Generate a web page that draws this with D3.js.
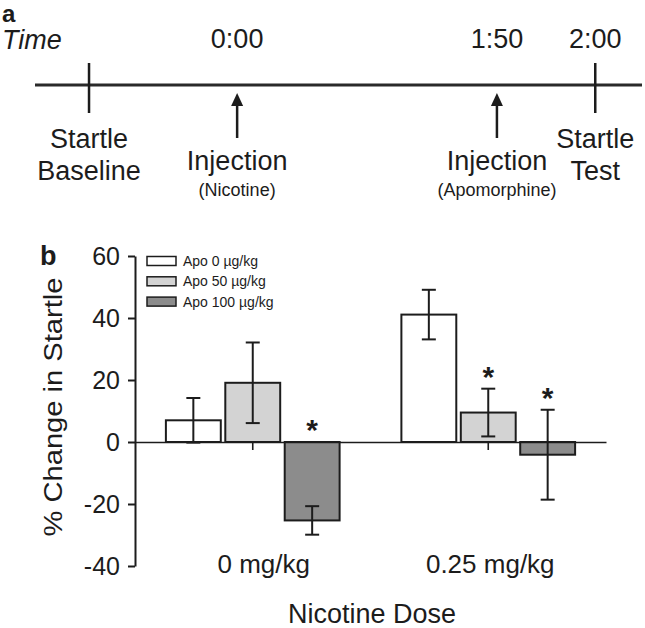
<!DOCTYPE html>
<html>
<head>
<meta charset="utf-8">
<script src="https://cdn.jsdelivr.net/npm/d3@7"></script>
<style>
  html, body { margin: 0; padding: 0; background: #fff; }
  svg { display: block; }
</style>
</head>
<body>
<script>
// ---------------- DATA ----------------
// Panel a: timeline events
const eventKeys   = ["baseline", "nicotine", "apomorphine", "test"];
const eventTimes  = ["", "0:00", "1:50", "2:00"];
const eventTitles = [["Startle", "Baseline"], ["Injection"], ["Injection"], ["Startle", "Test"]];
const eventNotes  = ["", "(Nicotine)", "(Apomorphine)", ""];
const eventMarks  = ["tick", "arrow", "arrow", "tick"];

// Panel b: % change in startle
const doses       = ["0 mg/kg", "0.25 mg/kg"];
const seriesNames = ["Apo 0 \u00b5g/kg", "Apo 50 \u00b5g/kg", "Apo 100 \u00b5g/kg"];
const apo0Means   = [7.0, 41.1];
const apo0Sem     = [7.2, 8.0];
const apo50Means  = [19.1, 9.5];
const apo50Sem    = [13.0, 7.7];
const apo100Means = [-25.3, -4.1];
const apo100Sem   = [4.6, 14.5];
const apo0Sig     = [false, false];
const apo50Sig    = [false, true];
const apo100Sig   = [true, true];
const yTicks      = [-40, -20, 0, 20, 40, 60];

// ---------------- STYLE / LAYOUT ----------------
const FONT = "'Liberation Sans', Arial, Helvetica, sans-serif";
const INK = "#1c1c1c";
const seriesFills = ["#ffffff", "#d3d3d3", "#8c8c8c"];

const svg = d3.select("body").append("svg")
  .attr("width", 645).attr("height", 628)
  .style("background", "#fff")
  .style("font-family", FONT)
  .attr("fill", INK);

// ================= PANEL A =================
svg.append("text").text("a")
  .attr("x", 2).attr("y", 22)
  .attr("font-weight", "bold").attr("font-size", 24);
svg.append("text").text("Time")
  .attr("x", 2).attr("y", 49)
  .attr("font-style", "italic").attr("font-size", 27);

const lineX = d3.scaleLinear().domain([0, 1]).range([35, 642]);
const ex = d3.scaleOrdinal().domain(eventKeys)
  .range([0.089, 0.333, 0.761, 0.923].map(f => lineX(f)));

const lineY = 85;
svg.append("line")
  .attr("x1", lineX(0)).attr("x2", lineX(1))
  .attr("y1", lineY).attr("y2", lineY)
  .attr("stroke", "#2a2a2a").attr("stroke-width", 3);

const ev = svg.append("g").selectAll("g")
  .data(eventKeys.map((k, i) => ({
    key: k, time: eventTimes[i], title: eventTitles[i], note: eventNotes[i], mark: eventMarks[i]
  })))
  .join("g")
  .attr("transform", d => `translate(${ex(d.key)},0)`);

ev.filter(d => d.mark === "tick").append("line")
  .attr("x1", 0).attr("x2", 0).attr("y1", 63).attr("y2", 113)
  .attr("stroke", INK).attr("stroke-width", 2.5);

ev.filter(d => d.mark === "arrow").append("line")
  .attr("x1", 0).attr("x2", 0).attr("y1", 138).attr("y2", 104)
  .attr("stroke", INK).attr("stroke-width", 2.5);
ev.filter(d => d.mark === "arrow").append("path")
  .attr("d", "M0,93 L-6,106 L6,106 Z")
  .attr("fill", INK);

ev.filter(d => d.time).append("text")
  .text(d => d.time)
  .attr("x", 0).attr("y", 48)
  .attr("text-anchor", "middle").attr("font-size", 27);

ev.each(function(d) {
  const g = d3.select(this);
  const baselines = d.title.length === 2 ? [148, 180] : [170];
  d.title.forEach((t, i) => {
    g.append("text").text(t)
      .attr("x", 0).attr("y", baselines[i])
      .attr("text-anchor", "middle").attr("font-size", 27);
  });
  if (d.note) {
    g.append("text").text(d.note)
      .attr("x", 0).attr("y", 196)
      .attr("text-anchor", "middle").attr("font-size", 18);
  }
});

// ================= PANEL B =================
svg.append("text").text("b")
  .attr("x", 40).attr("y", 265)
  .attr("font-weight", "bold").attr("font-size", 27);

const x0 = d3.scaleBand().domain(doses).range([135, 606]);
const x1 = d3.scaleBand().domain(seriesNames).range([0, x0.bandwidth()])
  .paddingInner(0.076).paddingOuter(0.52);
const y = d3.scaleLinear().domain([-40, 60]).range([566, 256]);

const means = [apo0Means, apo50Means, apo100Means];
const sems = [apo0Sem, apo50Sem, apo100Sem];
const sigs = [apo0Sig, apo50Sig, apo100Sig];

const rows = doses.flatMap((dose, i) => seriesNames.map((s, j) => ({
  dose, series: s, j, mean: means[j][i], sem: sems[j][i], sig: sigs[j][i]
})));

const bw = x1.bandwidth();
const bx = d => x0(d.dose) + x1(d.series);

// bars
svg.append("g").selectAll("rect")
  .data(rows).join("rect")
  .attr("x", bx)
  .attr("y", d => y(Math.max(0, d.mean)))
  .attr("width", bw)
  .attr("height", d => Math.abs(y(d.mean) - y(0)))
  .attr("fill", d => seriesFills[d.j])
  .attr("stroke", INK).attr("stroke-width", 2);

// x axis (zero line)
const xAxisG = svg.append("g")
  .attr("transform", `translate(0,${y(0)})`)
  .call(d3.axisBottom(x0).tickSizeInner(8).tickSizeOuter(0));
xAxisG.select(".domain").attr("stroke", INK).attr("stroke-width", 1.6);
xAxisG.selectAll(".tick line").attr("stroke", INK).attr("stroke-width", 1.6);
xAxisG.selectAll(".tick text")
  .attr("y", 131).attr("dy", 0)
  .attr("dx", (d, i) => i === 0 ? 11 : 2)
  .attr("font-size", 26).attr("font-family", FONT).attr("fill", INK);

// error bars
const eb = svg.append("g").selectAll("g")
  .data(rows).join("g")
  .attr("transform", d => `translate(${bx(d) + bw / 2},0)`);
eb.append("line")
  .attr("x1", 0).attr("x2", 0)
  .attr("y1", d => y(d.mean - d.sem)).attr("y2", d => y(d.mean + d.sem))
  .attr("stroke", INK).attr("stroke-width", 2);
eb.append("line")
  .attr("x1", -7).attr("x2", 7)
  .attr("y1", d => y(d.mean + d.sem)).attr("y2", d => y(d.mean + d.sem))
  .attr("stroke", INK).attr("stroke-width", 2);
eb.append("line")
  .attr("x1", -7).attr("x2", 7)
  .attr("y1", d => y(d.mean - d.sem)).attr("y2", d => y(d.mean - d.sem))
  .attr("stroke", INK).attr("stroke-width", 2);

// significance stars
eb.filter(d => d.sig).append("text")
  .text("*")
  .attr("x", 0)
  .attr("y", d => y(Math.max(0, d.mean + d.sem)) - 2)
  .attr("text-anchor", "middle")
  .attr("font-size", 30).attr("font-weight", "bold");

// y axis
const yAxisG = svg.append("g")
  .attr("transform", "translate(135,0)")
  .call(d3.axisLeft(y).tickValues(yTicks).tickFormat(d => String(d))
    .tickSizeInner(7).tickSizeOuter(0).tickPadding(8));
yAxisG.select(".domain").attr("stroke", INK).attr("stroke-width", 2);
yAxisG.selectAll(".tick line").attr("stroke", INK).attr("stroke-width", 2);
yAxisG.selectAll(".tick text")
  .attr("font-size", 25).attr("font-family", FONT).attr("fill", INK);

// y title
svg.append("text").text("% Change in Startle")
  .attr("transform", "translate(62,407) rotate(-90)")
  .attr("text-anchor", "middle")
  .attr("font-size", 26)
  .attr("textLength", 259).attr("lengthAdjust", "spacingAndGlyphs");

// x title
svg.append("text").text("Nicotine Dose")
  .attr("x", 372).attr("y", 623)
  .attr("text-anchor", "middle").attr("font-size", 27);

// legend
const leg = svg.append("g").selectAll("g")
  .data(seriesNames).join("g")
  .attr("transform", (d, i) => `translate(147,${261 + i * 20.3})`);
leg.append("rect")
  .attr("x", 0).attr("y", -4.5).attr("width", 29).attr("height", 9)
  .attr("fill", (d, i) => seriesFills[i])
  .attr("stroke", INK).attr("stroke-width", 1.5);
leg.append("text").text(d => d)
  .attr("x", 36).attr("y", 0).attr("dy", "0.35em")
  .attr("font-size", 14);
</script>
</body>
</html>
